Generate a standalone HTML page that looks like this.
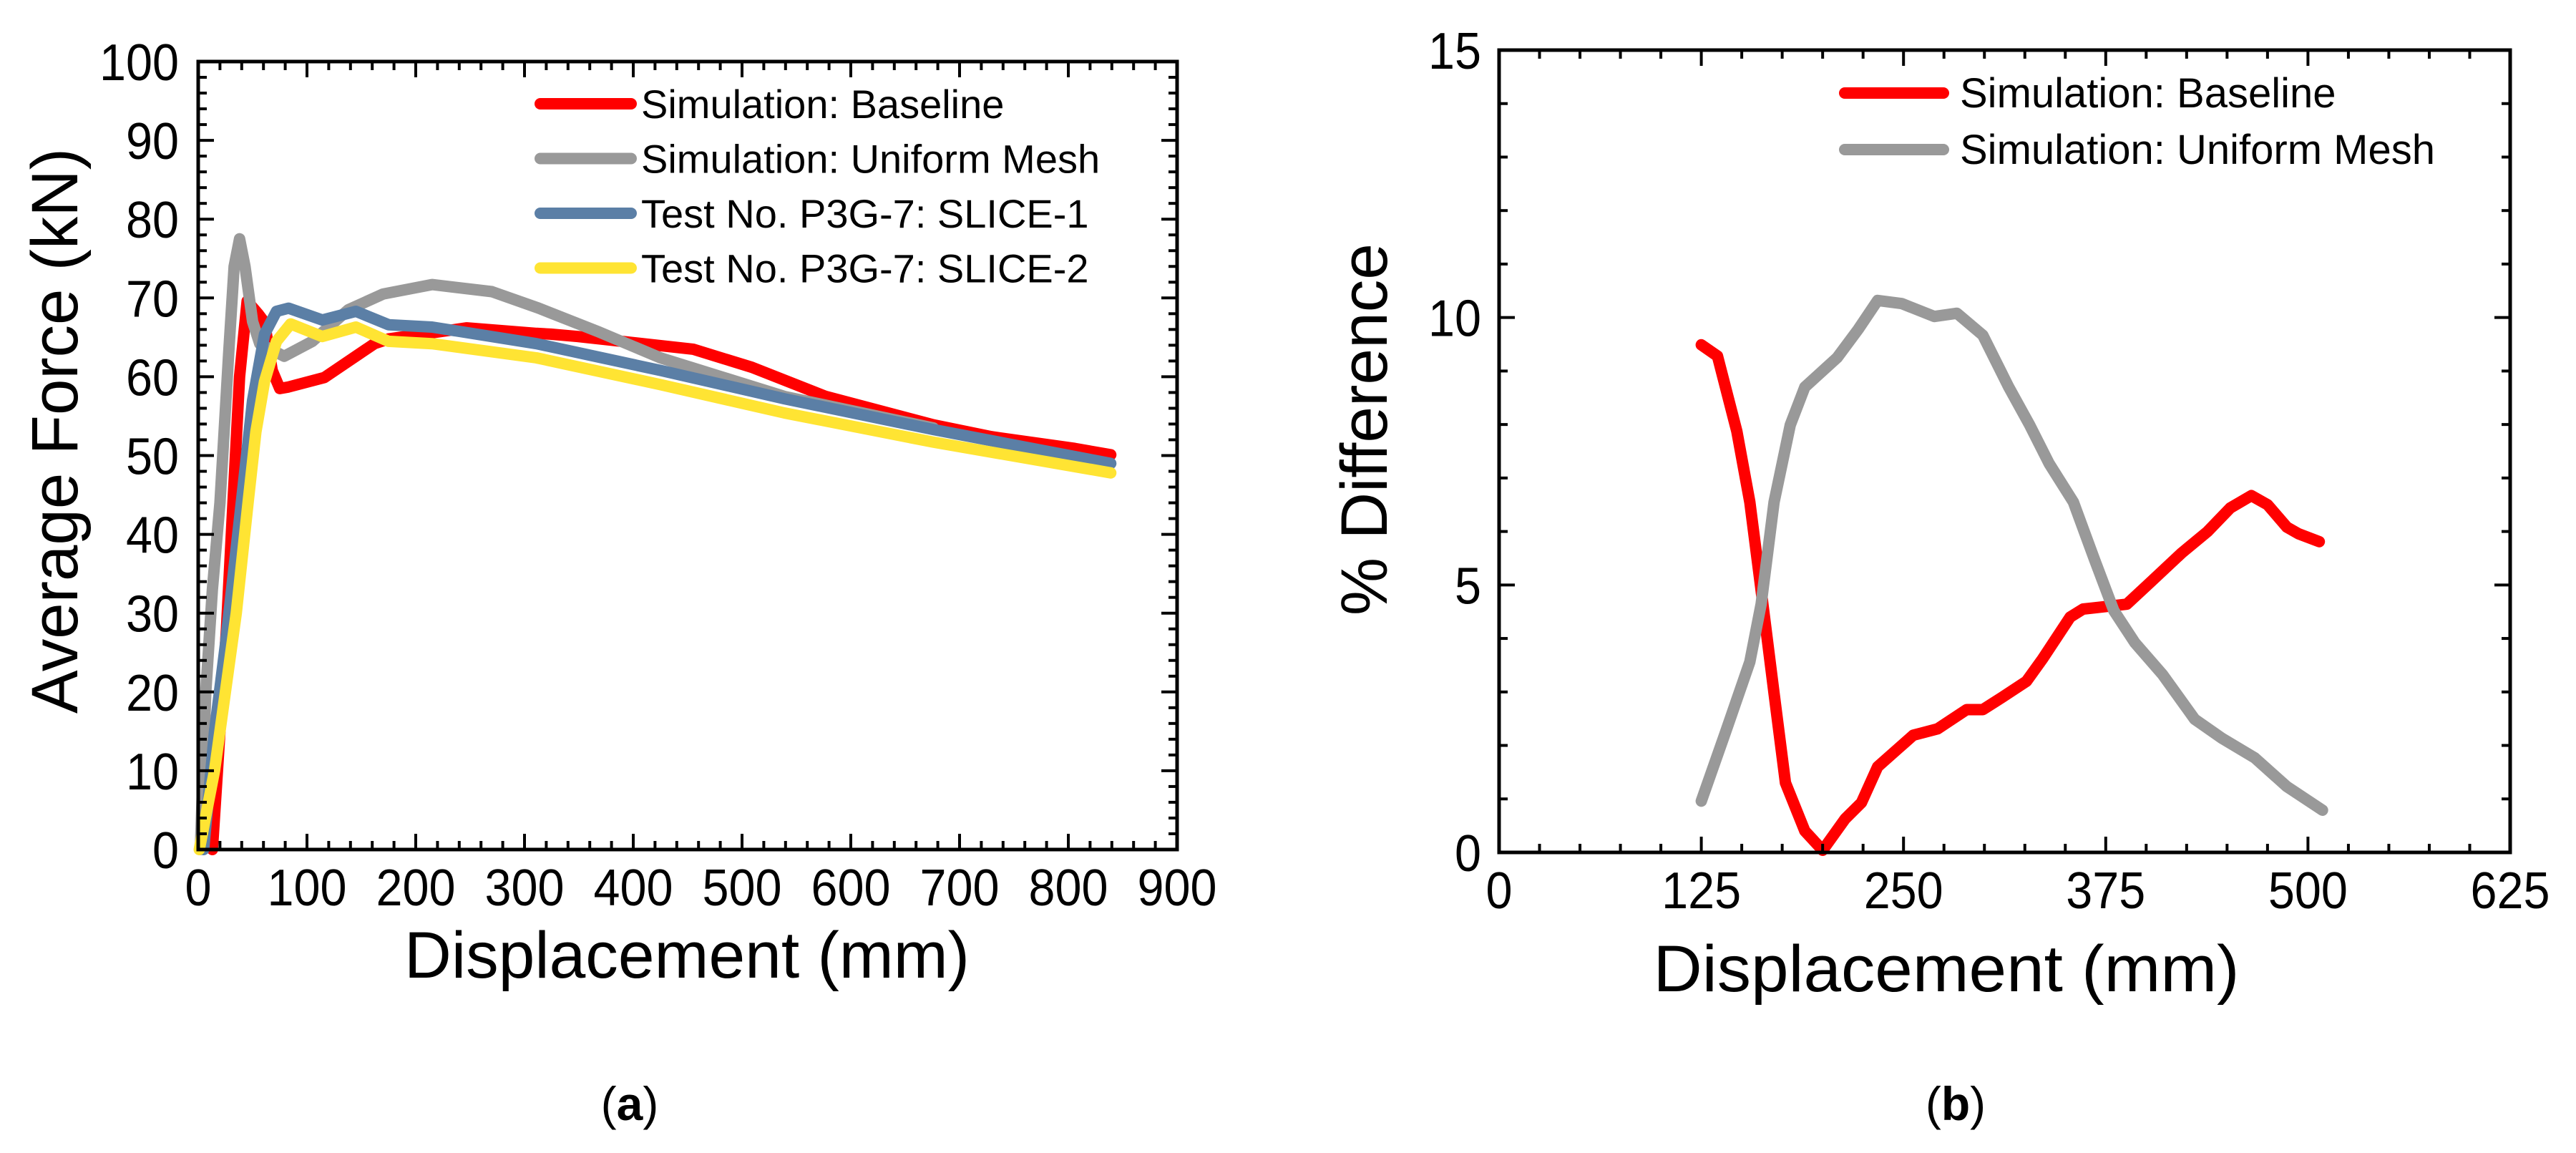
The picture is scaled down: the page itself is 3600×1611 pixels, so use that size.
<!DOCTYPE html>
<html><head><meta charset="utf-8"><style>
html,body{margin:0;padding:0;background:#fff;}
svg{display:block;}
text{font-family:"Liberation Sans",sans-serif;fill:#000;}
</style></head><body>
<svg id="fig" width="3600" height="1611" viewBox="0 0 3600 1611" xmlns="http://www.w3.org/2000/svg">
<g id="pa"></g>
<g id="pb"></g>
<text x="880" y="1565" font-size="66" text-anchor="middle" font-family="Liberation Serif">(<tspan font-weight="bold">a</tspan>)</text>
<text x="2733" y="1565" font-size="66" text-anchor="middle" font-family="Liberation Serif">(<tspan font-weight="bold">b</tspan>)</text>
</svg>
<script>
// ---- Panel A data ----
const aXTicks = [0,100,200,300,400,500,600,700,800,900];
const aYTicks = [0,10,20,30,40,50,60,70,80,90,100];
const aSeriesNames = ["Simulation: Baseline","Simulation: Uniform Mesh","Test No. P3G-7: SLICE-1","Test No. P3G-7: SLICE-2"];
const aColors = ["#ff0000","#999999","#5b7fa6","#ffe433"];
const redX = [13,20,26,32,38,45,55,61,68,75,83,116,162,175,247,311,324,349,455,509,577,676,729,806,839];
const redY = [0,15,28,44,60,69.6,68,66.9,60.8,58.5,58.7,59.9,64.2,64.8,66.2,65.5,65.4,65.1,63.5,61.2,57.5,53.9,52.4,50.9,50.1];
const grayX = [2,7,13,20,28,33,38,43,50,56.6,79,105,138,170,215,270,313,368,425,539,676];
const grayY = [0,20,33,44,63,74,77.5,74,67,64.2,62.6,64.5,68.5,70.5,71.7,70.8,68.7,65.7,62.4,57.5,53.5];
const blueX = [5,15,25,41,50,61,72,83,114,145,175,215,311,425,539,676,839];
const blueY = [0,15,26,45.7,57,65.4,68.3,68.7,67.2,68.3,66.6,66.3,64.2,60.8,57.2,53.3,49];
const yelX = [1,15,25,35,46,53,61,72,85,114,145,175,215,311,425,539,676,839];
const yelY = [0,10,20,30,44.2,53,59.4,64.5,66.7,65.1,66.3,64.5,64.2,62.4,59,55.4,51.7,47.8];
// ---- Panel B data ----
const bXTicks = [0,125,250,375,500,625];
const bYTicks = [0,5,10,15];
const bSeriesNames = ["Simulation: Baseline","Simulation: Uniform Mesh"];
const bColors = ["#ff0000","#999999"];
const bRedX = [125,135,147,155,162,170,177,189,200,214,224,234,247,256,271,289,299,311,326,336,353,361,388,403,422,438,452,465,475,487,494,507];
const bRedY = [9.49,9.28,7.87,6.55,4.9,2.97,1.3,0.4,0.04,0.63,0.93,1.6,1.95,2.19,2.31,2.67,2.67,2.9,3.2,3.62,4.4,4.55,4.64,5.06,5.6,6.0,6.44,6.67,6.5,6.08,5.96,5.81];
const bGrayX = [125,140,155,162,170,180,189,209,222,234,249,269,283,299,315,328,340,355,368,380,393,410,430,447,467,487,509];
const bGrayY = [0.96,2.25,3.56,4.64,6.55,7.99,8.7,9.25,9.78,10.32,10.26,10.02,10.08,9.67,8.7,7.99,7.27,6.55,5.48,4.52,3.92,3.33,2.49,2.13,1.77,1.23,0.79];

const NS="http://www.w3.org/2000/svg";
function mk(tag, attrs, parent){const e=document.createElementNS(NS,tag);for(const k in attrs)e.setAttribute(k,attrs[k]);parent.appendChild(e);return e;}

function drawPanel(g, cfg){
  const {L,R,T,B,xmin,xmax,ymin,ymax} = cfg;
  const sx=v=>L+(v-xmin)/(xmax-xmin)*(R-L);
  const sy=v=>B-(v-ymin)/(ymax-ymin)*(B-T);
  cfg.series.forEach((s,i)=>{
    const d=s.x.map((v,j)=>(j?"L":"M")+sx(v).toFixed(1)+","+sy(s.y[j]).toFixed(1)).join("");
    const p=mk("path",{d:d,fill:"none",stroke:s.color,"stroke-width":16,"stroke-linejoin":"round","stroke-linecap":"round"},g);
    
    
  });
  const fr=mk("rect",{x:L,y:T,width:R-L,height:B-T,fill:"none",stroke:"#000","stroke-width":5},g);
  
  
  const tg=mk("g",{stroke:"#000","stroke-width":4},g);
  
  
  for(let v=xmin; v<=xmax+1e-9; v+=cfg.xminor){
    const maj=Math.abs(((v-xmin)/cfg.xmajor)-Math.round((v-xmin)/cfg.xmajor))<1e-6;
    const len=maj?22:12, x=sx(v);
    mk("line",{x1:x,y1:B,x2:x,y2:B-len},tg); mk("line",{x1:x,y1:T,x2:x,y2:T+len},tg);
  }
  for(let v=ymin; v<=ymax+1e-9; v+=cfg.yminor){
    const maj=Math.abs(((v-ymin)/cfg.ymajor)-Math.round((v-ymin)/cfg.ymajor))<1e-6;
    const len=maj?22:12, y=sy(v);
    mk("line",{x1:L,y1:y,x2:L+len,y2:y},tg); mk("line",{x1:R,y1:y,x2:R-len,y2:y},tg);
  }
  cfg.xticks.forEach(v=>{
    const s=String(v);
    const t=mk("text",{x:sx(v),y:B+78,"font-size":72,"text-anchor":"middle",textLength:s.length*37,lengthAdjust:"spacingAndGlyphs"},g);
    t.textContent=s;
    
    
  });
  cfg.yticks.forEach(v=>{
    const s=String(v);
    const t=mk("text",{x:cfg.ylabR,y:sy(v)+26,"font-size":72,"text-anchor":"end",textLength:s.length*37,lengthAdjust:"spacingAndGlyphs"},g);
    t.textContent=s;
    
    
  });
  const xt=mk("text",{x:cfg.xtx,y:cfg.xty,"font-size":92,"text-anchor":"middle",textLength:cfg.xtw,lengthAdjust:"spacingAndGlyphs"},g);
  xt.textContent="Displacement (mm)";
  
  
  const yt=mk("text",{x:0,y:0,"font-size":92,"text-anchor":"middle",textLength:cfg.ytw,lengthAdjust:"spacingAndGlyphs",transform:`translate(${cfg.ytx},${cfg.yty}) rotate(-90)`},g);
  yt.textContent=cfg.ytitle;
  
  
  cfg.series.forEach((s,i)=>{
    const y=cfg.legY+i*cfg.legDy;
    const lg=mk("g",{},g);
    
    
    mk("line",{x1:cfg.legX1,y1:y,x2:cfg.legX2,y2:y,stroke:s.color,"stroke-width":16,"stroke-linecap":"round"},lg);
    const t=mk("text",{x:cfg.legTx,y:y+20,"font-size":cfg.legFs},lg);
    t.textContent=s.name;
  });
}

drawPanel(document.getElementById('pa'),{
  L:277,R:1645,T:86,B:1187,xmin:0,xmax:900,ymin:0,ymax:100,
  xminor:20,xmajor:100,yminor:2,ymajor:10,
  xticks:aXTicks,yticks:aYTicks,ylabR:250,
  xtx:960,xty:1366,xtw:790,ytx:108,yty:602,ytw:790,ytitle:"Average Force (kN)",
  legY:145,legDy:76.5,legX1:755,legX2:882,legTx:896,legFs:56,
  series:[
    {key:"baseline-line",name:aSeriesNames[0],color:aColors[0],x:redX,y:redY},
    {key:"uniform-mesh-line",name:aSeriesNames[1],color:aColors[1],x:grayX,y:grayY},
    {key:"slice-1-line",name:aSeriesNames[2],color:aColors[2],x:blueX,y:blueY},
    {key:"slice-2-line",name:aSeriesNames[3],color:aColors[3],x:yelX,y:yelY}
  ]
});
drawPanel(document.getElementById('pb'),{
  L:2095,R:3508,T:70,B:1191,xmin:0,xmax:625,ymin:0,ymax:15,
  xminor:25,xmajor:125,yminor:1,ymajor:5,
  xticks:bXTicks,yticks:bYTicks,ylabR:2070,
  xtx:2720,xty:1385,xtw:819,ytx:1938,yty:600,ytw:520,ytitle:"% Difference",
  legY:130,legDy:79,legX1:2578,legX2:2716,legTx:2739,legFs:58,
  series:[
    {key:"baseline-diff-line",name:bSeriesNames[0],color:bColors[0],x:bRedX,y:bRedY},
    {key:"uniform-mesh-diff-line",name:bSeriesNames[1],color:bColors[1],x:bGrayX,y:bGrayY}
  ]
});
</script>
</body></html>
